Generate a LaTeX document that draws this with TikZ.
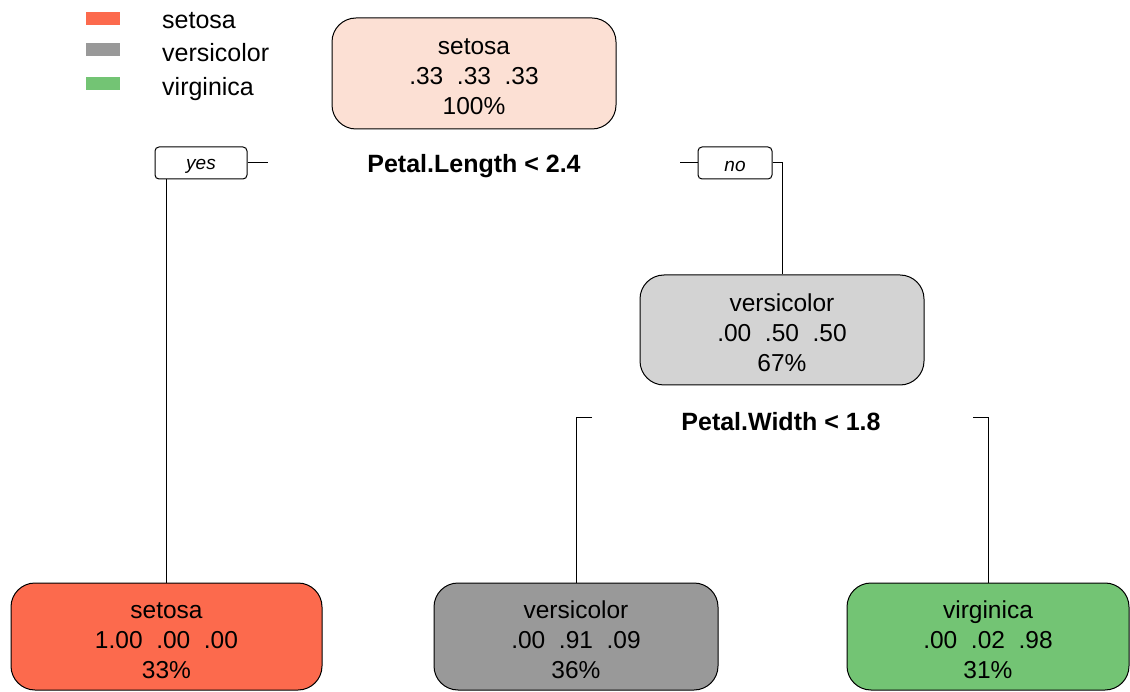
\documentclass[tikz,border=0pt]{standalone}
\usepackage{fontspec}
\setmainfont{Liberation Sans}
\definecolor{cset}{RGB}{252,106,77}
\definecolor{cver}{RGB}{153,153,153}
\definecolor{cvir}{RGB}{115,196,116}
\definecolor{croot}{RGB}{252,224,212}
\definecolor{cnode}{RGB}{211,211,211}
\newcommand\threelines[3]{\raisebox{-5.5pt}[\height][\depth]{\begin{tabular}{@{}c@{}}#1\\#2\\#3\end{tabular}}}
\newcommand\lowered[1]{\raisebox{-3pt}[\height][\depth]{#1}}
\begin{document}
\begin{tikzpicture}[x=1pt,y=-1pt,
  box/.style={draw=black, line width=1pt, rounded corners=24pt, minimum height=109pt,
    inner sep=0pt, font=\fontsize{24.5}{30}\selectfont},
  lab/.style={draw=black, line width=1pt, rounded corners=4pt, minimum height=32pt,
    inner sep=0pt, font=\fontsize{19}{22}\selectfont\itshape},
  split/.style={font=\fontsize{25}{30}\selectfont\bfseries, inner sep=0pt},
  conn/.style={line width=1pt},
  swatch/.style={minimum width=34pt, minimum height=13pt, inner sep=0pt},
  legtext/.style={anchor=west, inner sep=0pt, font=\fontsize{25}{30}\selectfont, text height=18pt, text depth=5pt}
]
\useasboundingbox (0,0) rectangle (1130,692);

% legend
\node[swatch, fill=cset] (ls1) at (103,18.5) {};
\node[swatch, fill=cver] (ls2) at (103,50) {};
\node[swatch, fill=cvir] (ls3) at (103,83.5) {};
\node[legtext] (lt1) at (162,22) {setosa};
\node[legtext] (lt2) at (162,55.5) {versicolor};
\node[legtext] (lt3) at (162,89.5) {virginica};

% tree nodes
\node[box, fill=croot, minimum width=284pt, minimum height=111pt] (root) at (474,73.5) {\threelines{setosa}{.33\ \ .33\ \ .33}{100\%}};
\node[box, fill=cnode, minimum width=284pt, minimum height=110pt] (n2) at (782,330) {\threelines{versicolor}{.00\ \ .50\ \ .50}{67\%}};
\node[box, fill=cset, minimum width=311pt, minimum height=107pt] (leafA) at (166.5,636.5) {\threelines{setosa}{1.00\ \ .00\ \ .00}{33\%}};
\node[box, fill=cver, minimum width=284pt, minimum height=107pt] (leafB) at (576,636.5) {\threelines{versicolor}{.00\ \ .91\ \ .09}{36\%}};
\node[box, fill=cvir, minimum width=282pt, minimum height=107pt] (leafC) at (988,636.5) {\threelines{virginica}{.00\ \ .02\ \ .98}{31\%}};

% split labels
\node[split] (s1) at (474,166) {Petal.Length < 2.4};
\node[split] (s2) at (781,421.5) {Petal.Width < 1.8};

% yes / no boxes
\node[lab, minimum width=92pt] (yes) at (201,163) {\lowered{yes}};
\node[lab, minimum width=74pt] (no) at (735,163) {\lowered{no}};

% connectors
\coordinate (yl) at (268,163);
\coordinate (nl) at (680,163);
\coordinate (bl) at (592,418);
\coordinate (br) at (973,418);
\draw[conn] (yes.east) -- (yl);
\draw[conn] (yes.south -| leafA.north) -- (leafA.north);
\draw[conn] (nl) -- (no.west);
\draw[conn] (no.east) -| (n2.north);
\draw[conn] (bl) -| (leafB.north);
\draw[conn] (br) -| (leafC.north);
\end{tikzpicture}
\end{document}
